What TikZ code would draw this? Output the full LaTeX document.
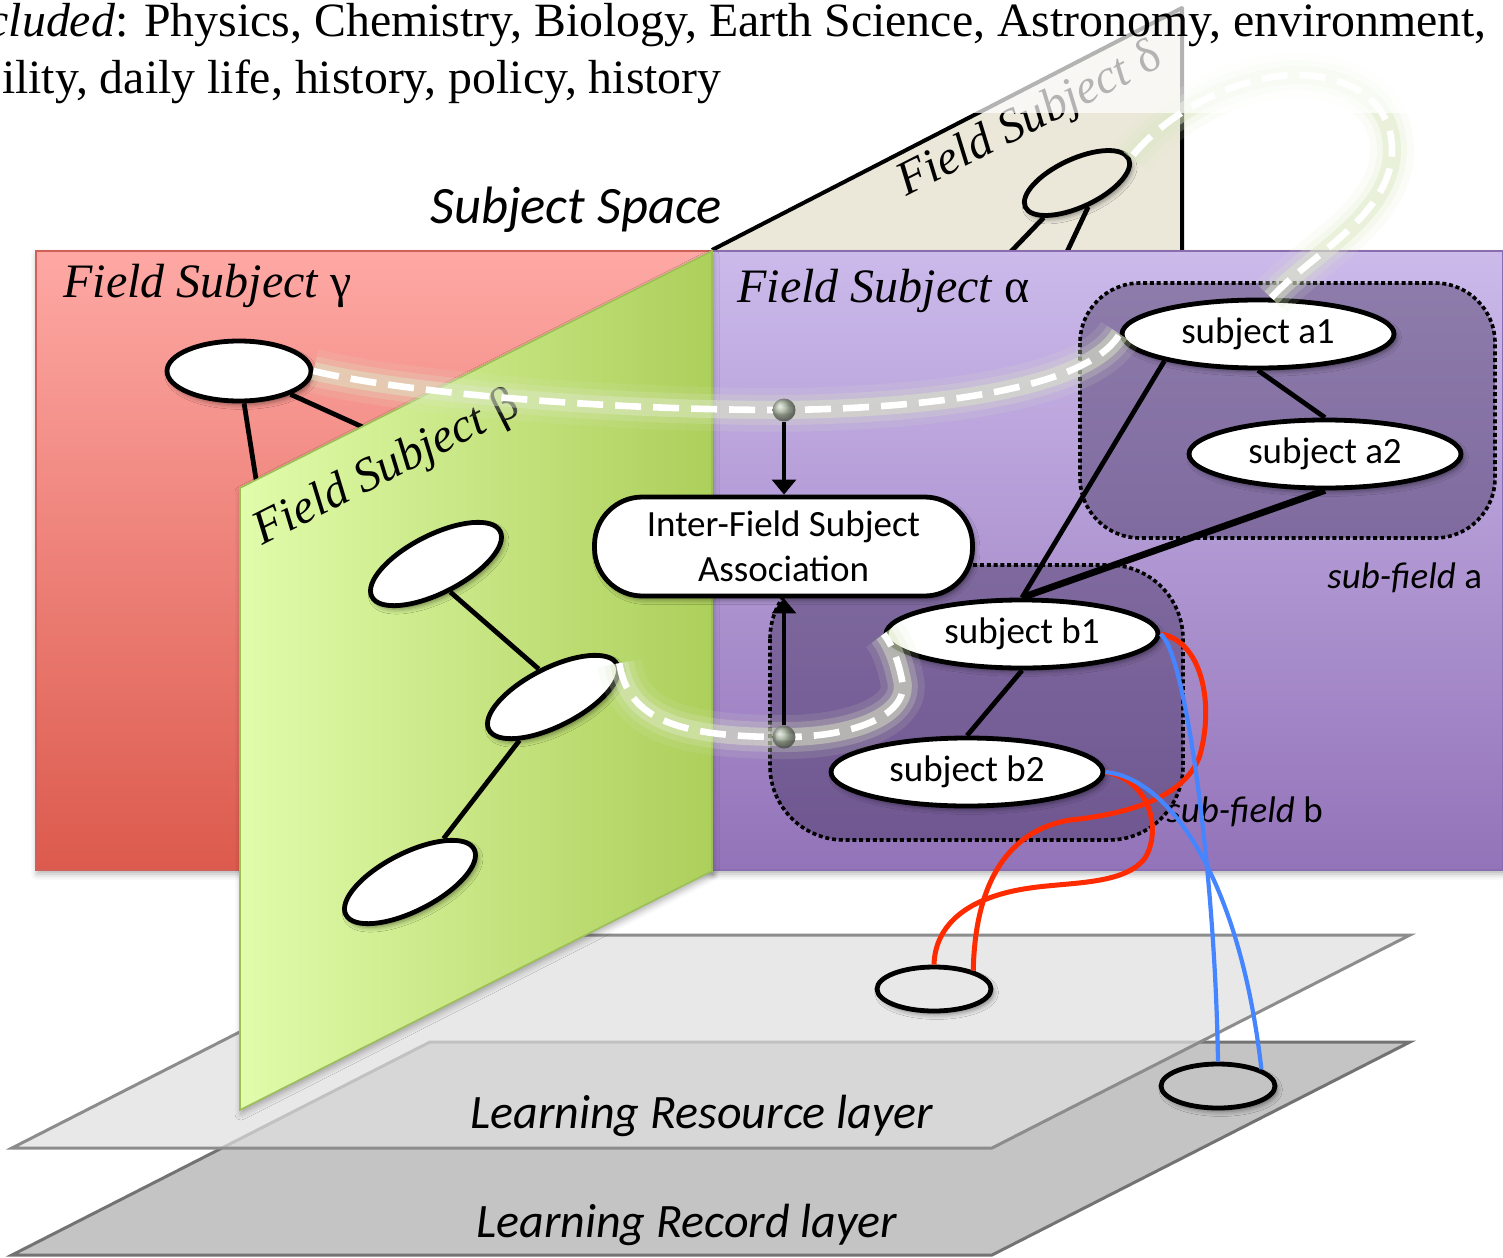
\documentclass[tikz,border=0pt]{standalone}
\usepackage{fontspec}
\setmainfont{Liberation Serif}
\newfontfamily\calibrifont{Carlito}
\usetikzlibrary{shapes.geometric,arrows.meta,shadows.blur}

\definecolor{redTop}{HTML}{FEA8A4}
\definecolor{redBot}{HTML}{DC5A4D}
\definecolor{redEdge}{HTML}{D06058}
\definecolor{purTop}{HTML}{CCBAEB}
\definecolor{purBot}{HTML}{9373B9}
\definecolor{purEdge}{HTML}{8A6DAF}
\definecolor{grnL}{HTML}{E1FCAB}
\definecolor{grnR}{HTML}{ADCF5B}
\definecolor{grnEdge}{HTML}{9DBF57}
\definecolor{beige}{HTML}{EBE7D9}
\definecolor{subFill}{HTML}{3C2C57}
\definecolor{resFill}{HTML}{DFDFDF}
\definecolor{resEff}{HTML}{E8E8E8}
\definecolor{resEdge}{HTML}{8C8C8C}
\definecolor{recFill}{HTML}{C4C4C4}
\definecolor{recEdge}{HTML}{737373}
\definecolor{glowc}{HTML}{DDE9C6}
\definecolor{dotc}{HTML}{98A68E}
\definecolor{linkRed}{HTML}{FF2B00}
\definecolor{linkBlue}{HTML}{4585FF}

\newcommand\topfont{\fontsize{23.9pt}{28.5pt}\selectfont}
\newcommand\fieldfont{\fontsize{24pt}{28pt}\selectfont\itshape}
\newcommand\nodefont{\calibrifont\fontsize{18.5pt}{22.5pt}\selectfont}
\newcommand\layerfont{\calibrifont\itshape\fontsize{24pt}{28pt}\selectfont}
\newcommand\spacefont{\calibrifont\itshape\fontsize{26.3pt}{30pt}\selectfont}

\tikzset{
  softshadow/.style={blur shadow={shadow xshift=1.3pt,shadow yshift=-1.8pt,
      shadow blur radius=2.4pt,shadow opacity=45}},
  planeshadow/.style={blur shadow={shadow xshift=0.5pt,shadow yshift=-2pt,
      shadow blur radius=3pt,shadow opacity=30}},
  subj/.style={ellipse,draw=black,line width=2.4pt,fill=white,inner sep=0pt,
    minimum width=136pt,minimum height=34pt,font=\nodefont,softshadow},
  blank/.style={ellipse,draw=black,line width=2.4pt,fill=white,inner sep=0pt,softshadow},
  layerdot/.style={ellipse,draw=black,line width=2.4pt,inner sep=0pt,
    minimum width=57pt,minimum height=22pt,softshadow},
  link/.style={line width=2.4pt,black},
  assoc/.style={-{Triangle[width=12pt,length=7.5pt]},line width=1.6pt,black},
  fieldlbl/.style={font=\fieldfont,inner sep=0pt,anchor=base west},
  sublbl/.style={font=\nodefont,inner sep=0pt,anchor=base west},
  subfield/.style={fill=subFill,fill opacity=0.42,draw=black,line width=1.8pt,
    dash pattern=on 2pt off 1.4pt},
  glowdash/.style={draw=glowc,line width=15pt,draw opacity=0.22,
    preaction={draw=glowc,line width=22pt,draw opacity=0.12,solid},
    postaction={draw=glowc,line width=9pt,draw opacity=0.45,solid},
    postaction={draw=white,line width=3.3pt,draw opacity=1,dash pattern=on 13pt off 6pt}},
  jdot/.style={circle,shading=ball,ball color=dotc,minimum size=11.5pt,inner sep=0pt,opacity=0.8},
  redlink/.style={draw=linkRed,line width=2.5pt},
  bluelink/.style={draw=linkBlue,line width=2.1pt},
}

\begin{document}
\begin{tikzpicture}[x=0.5pt,y=-0.5pt]
\useasboundingbox (0,0) rectangle (1503,1257);

% ---------- learning layers
\path[fill=recFill,draw=recEdge,line width=1.5pt]
  (12,1255) -- (992,1255) -- (1410,1042) -- (430,1042) -- cycle;
\path[fill=resFill,fill opacity=0.73,draw=resEdge,line width=1.5pt]
  (12,1148) -- (992,1148) -- (1410,935) -- (430,935) -- cycle;
\node[font=\layerfont,anchor=base west,inner sep=0pt] (resLbl) at (470,1128) {Learning Resource layer};
\node[font=\layerfont,anchor=base west,inner sep=0pt] (recLbl) at (476,1237) {Learning Record layer};
\node[layerdot,fill=resEff] (res) at (934,989) {};
\node[layerdot,fill=recFill] (rec) at (1218,1086) {};

% ---------- field subject delta (back plane)
\path[fill=beige] (712,250) -- (1182,8) -- (1182,250) -- cycle;
\draw[line width=2pt,line join=round] (712,250) -- (1182,8) -- (1182,250);
\coordinate (dh1) at (974,290);
\coordinate (dh2) at (1049,290);
\node[blank,fill=beige,minimum width=57pt,minimum height=24pt,rotate=25] (delta) at (1077,183) {};
\draw[link] (delta) -- (dh1);
\draw[link] (delta.south) -- (dh2);
\node[fieldlbl,rotate=27] (deltaLbl) at (906,197) {Field Subject \textup{δ}};

% ---------- field subject gamma
\path[top color=redTop,bottom color=redBot,draw=redEdge,line width=0.6pt,planeshadow]
  (36,251) rectangle (712,870);
\node[blank,minimum width=72pt,minimum height=30pt] (gamma) at (239,371) {};
\coordinate (gh1) at (264,530);
\coordinate (gh2) at (420,453);
\draw[link] (gamma) -- (gh1);
\draw[link] (gamma) -- (gh2);
\node[fieldlbl] (gammaLbl) at (63,297) {Field Subject \textup{γ}};

% ---------- field subject alpha
\path[top color=purTop,bottom color=purBot,draw=purEdge,line width=0.6pt,planeshadow]
  (712,251) rectangle (1503,870);
\node[fieldlbl] (alphaLbl) at (737,302) {Field Subject \textup{α}};

% ---------- field subject beta
\path[left color=grnL,right color=grnR,draw=grnEdge,line width=0.8pt,planeshadow]
  (240,488) -- (712,251) -- (712,871) -- (240,1110) -- cycle;
\node[fieldlbl,rotate=27] (betaLbl) at (262,546) {Field Subject \textup{β}};
\node[blank,minimum width=72pt,minimum height=29pt,rotate=27] (beta1) at (436,564) {};
\node[blank,minimum width=72pt,minimum height=29pt,rotate=27] (beta2) at (553,697) {};
\node[blank,minimum width=72pt,minimum height=29pt,rotate=27] (beta3) at (410,882) {};
\draw[link] (beta1.south) -- (beta2.north);
\draw[link] (beta2) -- (beta3);

% ---------- sub-fields
\path[subfield,rounded corners=30pt] (1080,283) rectangle (1495,538);
\path[subfield,rounded corners=37pt] (770,565) rectangle (1183,840);
\node[sublbl] (subALbl) at (1327,588) {\textit{sub-field} a};
\node[sublbl] (subBLbl) at (1166,822) {\textit{sub-field} b};

% ---------- subjects of field alpha
\node[subj] (a1) at (1258,334) {subject a1};
\node[subj] (a2) at (1325,454) {subject a2};
\node[subj] (b1) at (1022,634) {subject b1};
\node[subj] (b2) at (967,772) {subject b2};
\draw[link] (a1.196) -- (b1.north);
\draw[link] (a1.south) -- (a2.north);
\draw[link,line width=3.4pt] (a2.south) -- (b1.north);
\draw[link] (b1.south) -- (b2.north);

% ---------- association box
\node[draw=black,fill=white,line width=2.4pt,rounded corners=24pt,minimum width=189pt,
  minimum height=49.5pt,align=center,font=\nodefont,softshadow] (assoc) at (783.5,546.5)
  {Inter-Field Subject\\Association};

% ---------- inter-field links (glowing dashed paths)
\path[glowdash] (gamma.east) .. controls (400,392) and (600,410) .. (784,410)
  .. controls (950,408) and (1090,385) .. (a1.west);
\path[glowdash] (beta2.east) .. controls (628,720) and (680,737) .. (784,737)
  .. controls (860,737) and (910,712) .. (902,680)
  .. controls (897,655) and (890,642) .. (b1.west);
\path[glowdash] (a1.70) .. controls (1310,255) and (1392,215) .. (1392,150)
  .. controls (1392,90) and (1330,70) .. (1280,76)
  .. controls (1220,83) and (1160,120) .. (delta.east);

\node[jdot] (jt) at (784,410) {};
\node[jdot] (jb) at (784,737) {};
\draw[assoc] (jt) -- (jt |- assoc.north);
\draw[assoc] (jb) -- (jb |- assoc.south);

% ---------- links down to the learning layers
\draw[redlink] (b1.east) .. controls (1200,640) and (1215,700) .. (1200,755)
  .. controls (1185,800) and (1120,815) .. (1070,820)
  .. controls (1010,830) and (975,880) .. (res.25);
\draw[redlink] (b2.east) .. controls (1150,780) and (1162,830) .. (1145,858)
  .. controls (1125,885) and (1070,882) .. (1030,888)
  .. controls (960,898) and (935,930) .. (res.north);
\draw[bluelink] (b1.east) .. controls (1185,650) and (1215,870) .. (rec.north);
\draw[bluelink] (b2.east) .. controls (1170,778) and (1240,880) .. (rec.21);

% ---------- caption strip
\fill[white,fill opacity=0.7] (0,0) rectangle (1503,113);
\node[anchor=base east,inner sep=0pt,font=\topfont] (topLine1) at (1487,37)
  {\textit{cluded}: Physics, Chemistry, Biology, Earth Science, Astronomy, environment,};
\node[anchor=base east,inner sep=0pt,font=\topfont] (topLine2) at (722,94)
  {ility, daily life, history, policy, history};
\node[font=\spacefont,anchor=base west,inner sep=0pt] (spaceLbl) at (430,224) {Subject Space};

\end{tikzpicture}
\end{document}
